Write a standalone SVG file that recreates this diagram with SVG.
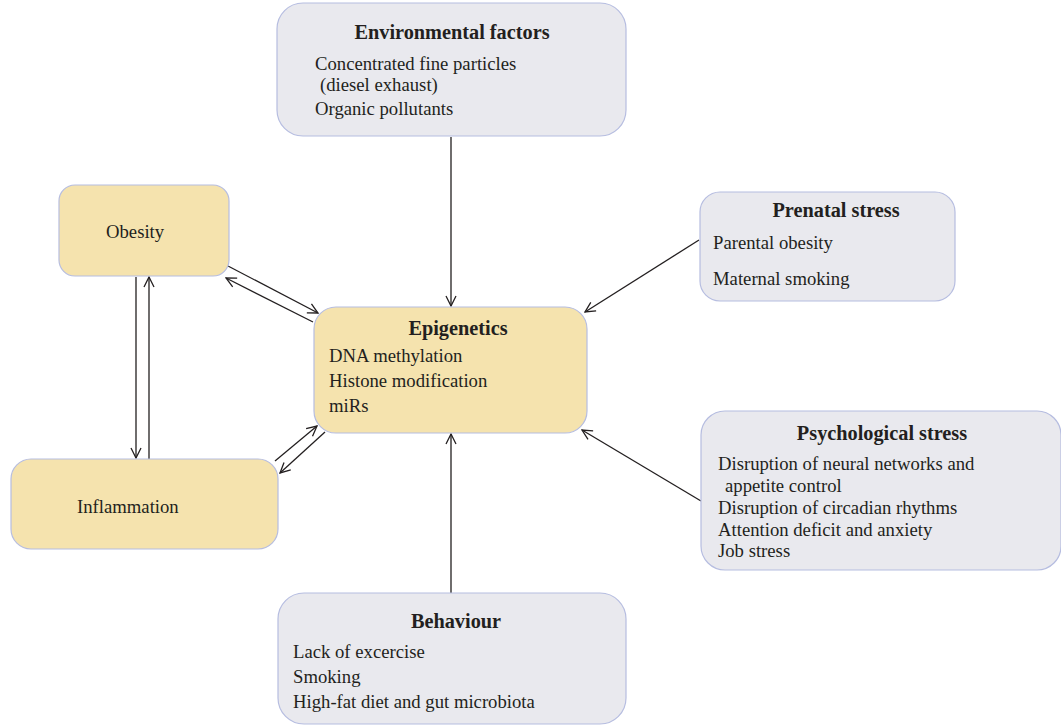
<svg xmlns="http://www.w3.org/2000/svg" width="1061" height="725" viewBox="0 0 1061 725">
<style>
.grey{fill:#e9e9ee;stroke:#b6bde0;stroke-width:1.2}
.yel{fill:#f5e3ae;stroke:#b6bde0;stroke-width:1.2}
text{font-family:"Liberation Serif","Times New Roman",serif;font-size:18.7px;fill:#231f20}
.t{font-weight:bold;font-size:20.3px;text-anchor:middle}
.c{stroke:#231f20;stroke-width:1.3;fill:none;marker-end:url(#ah)}
</style>
<defs>
<marker id="ah" viewBox="0 0 12 12" refX="11" refY="6" markerWidth="12" markerHeight="12" markerUnits="userSpaceOnUse" orient="auto">
<path d="M1,1 L11,6 L1,11" fill="none" stroke="#231f20" stroke-width="1.3"/>
</marker>
</defs>
<rect width="1061" height="725" fill="#fff"/>
<g id="connectors">
<line class="c" x1="451" y1="137" x2="451" y2="306"/>
<line class="c" x1="451" y1="593" x2="451" y2="434"/>
<line class="c" x1="699" y1="240" x2="585" y2="312"/>
<line class="c" x1="701" y1="501" x2="582" y2="430"/>
<line class="c" x1="228" y1="266" x2="318" y2="313"/>
<line class="c" x1="313" y1="322" x2="226" y2="278"/>
<line class="c" x1="275" y1="461" x2="317" y2="426"/>
<line class="c" x1="325" y1="432" x2="280" y2="473"/>
<line class="c" x1="136" y1="277" x2="136" y2="458"/>
<line class="c" x1="149" y1="459" x2="149" y2="277"/>
</g>
<g id="env">
<rect class="grey" x="277" y="3" width="349" height="133" rx="26"/>
<text class="t" x="452" y="39">Environmental factors</text>
<text x="315" y="70">Concentrated fine particles</text>
<text x="320" y="91">(diesel exhaust)</text>
<text x="315" y="115">Organic pollutants</text>
</g>
<g id="obesity">
<rect class="yel" x="59" y="185" width="170" height="91" rx="16"/>
<text x="106" y="238">Obesity</text>
</g>
<g id="epigenetics">
<rect class="yel" x="314" y="307" width="273" height="126" rx="22"/>
<text class="t" x="458" y="335">Epigenetics</text>
<text x="329" y="362">DNA methylation</text>
<text x="329" y="387">Histone modification</text>
<text x="329" y="412">miRs</text>
</g>
<g id="prenatal">
<rect class="grey" x="700" y="192" width="255" height="109" rx="20"/>
<text class="t" x="836" y="217">Prenatal stress</text>
<text x="713" y="249">Parental obesity</text>
<text x="713" y="285">Maternal smoking</text>
</g>
<g id="psych">
<rect class="grey" x="701" y="411" width="360" height="159" rx="24"/>
<text class="t" x="882" y="440">Psychological stress</text>
<text x="718" y="470">Disruption of neural networks and</text>
<text x="725" y="492">appetite control</text>
<text x="718" y="514">Disruption of circadian rhythms</text>
<text x="718" y="536">Attention deficit and anxiety</text>
<text x="718" y="557">Job stress</text>
</g>
<g id="inflammation">
<rect class="yel" x="11" y="459" width="267" height="90" rx="20"/>
<text x="77" y="513">Inflammation</text>
</g>
<g id="behaviour">
<rect class="grey" x="278" y="593" width="348" height="131" rx="26"/>
<text class="t" x="456" y="628">Behaviour</text>
<text x="293" y="658">Lack of excercise</text>
<text x="293" y="683">Smoking</text>
<text x="293" y="708">High-fat diet and gut microbiota</text>
</g>
</svg>
